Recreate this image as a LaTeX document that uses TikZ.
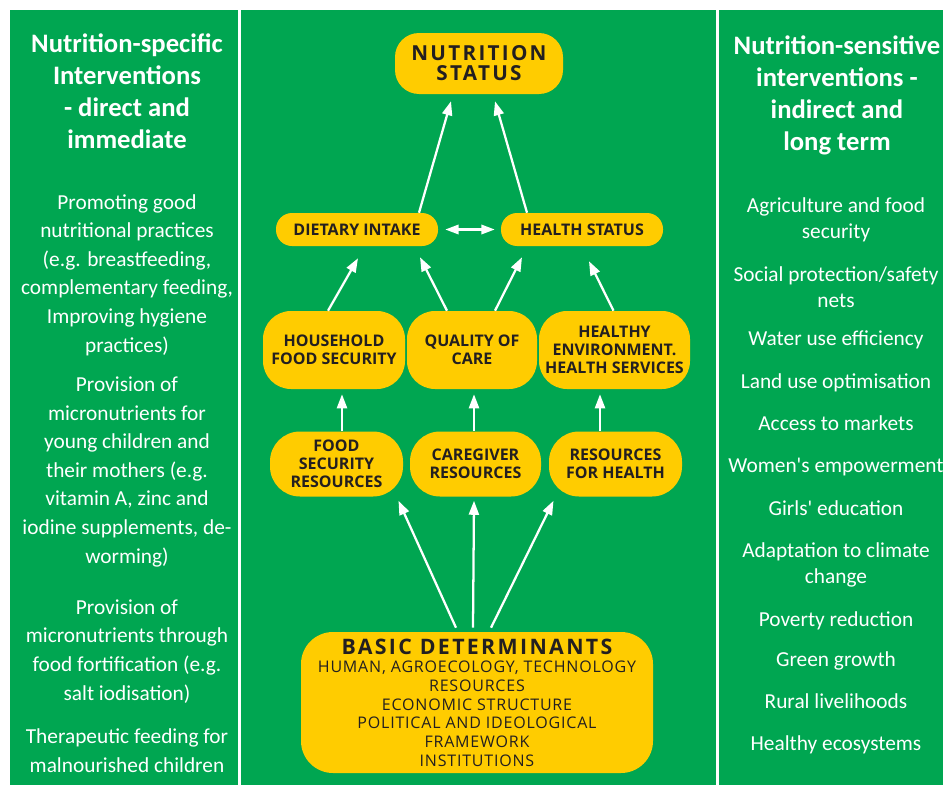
\documentclass[tikz,border=0pt]{standalone}
\usepackage{fontspec}
\setmainfont{Carlito}
\newfontfamily\boxfont{Open Sans}
\newfontfamily\boxwide{Open Sans}[LetterSpace=11]
\newfontfamily\boxloose{Open Sans}[LetterSpace=5]
\usepackage{tikz}
\usetikzlibrary{arrows.meta}
\definecolor{leafgreen}{RGB}{0, 166, 81}
\definecolor{sunyellow}{RGB}{255, 204, 0}
\definecolor{inkdark}{RGB}{35, 31, 32}
\newdimen\px \px=0.75pt

\tikzset{
  box/.style={fill=sunyellow, text=inkdark, align=center, inner sep=0pt,
              font=\boxfont\bfseries\fontsize{12}{13.5}\selectfont},
  pill/.style={box, minimum width=162\px, minimum height=33\px, rounded corners=16\px},
  cause/.style={box, minimum height=78\px, rounded corners=28\px},
  means/.style={box, minimum height=65\px, rounded corners=30\px},
  flow/.style={white, line width=1.7pt, -{Triangle[length=10.5pt,width=7.5pt]}},
  twoway/.style={white, line width=1.7pt, {Triangle[length=10pt,width=7pt]}-{Triangle[length=10pt,width=7pt]}},
  head/.style={text=white, align=center, anchor=base, inner sep=0pt,
               font=\bfseries\fontsize{20}{24}\selectfont},
  item/.style={text=white, align=center, anchor=base, inner sep=0pt,
               font=\fontsize{16}{21.4}\selectfont},
  itemr/.style={item, font=\fontsize{16}{19.5}\selectfont}
}

\begin{document}
\begin{tikzpicture}[x=0.75pt, y=-0.75pt]
  \useasboundingbox (0,0) rectangle (943,785);
  \fill[white]     (  0.0, 0) rectangle (943.0,785);
  \fill[leafgreen] ( 10.0,10) rectangle (237.5,785);
  \fill[leafgreen] (241.0,10) rectangle (715.7,785);
  \fill[leafgreen] (719.0,10) rectangle (943.0,785);

  % panel headings (placed by the baseline of their last line)
  \node[head] (spec) at (127,148) {Nutrition-specific\\Interventions\\- direct and\\immediate};
  \node[head] (sens) at (837,150) {Nutrition-sensitive\\interventions -\\indirect and\\long term};

  \foreach \y/\txt [count=\i] in {
      352/{Promoting good\\nutritional practices\\(e.g. breastfeeding,\\complementary feeding,\\Improving hygiene\\practices)},
      563/{Provision of\\micronutrients for\\young children and\\their mothers (e.g.\\vitamin A, zinc and\\iodine supplements, de-\\worming)},
      700/{Provision of\\micronutrients through\\food fortification (e.g.\\salt iodisation)},
      772/{Therapeutic feeding for\\malnourished children}}
    \node[item] (spec-\i) at (127,\y) {\txt};

  \foreach \y/\txt [count=\i] in {
      238/{Agriculture and food\\security},
      307/{Social protection/safety\\nets},
      345/{Water use efficiency},
      388/{Land use optimisation},
      430/{Access to markets},
      472/{Women\textquotesingle s empowerment},
      515/{Girls\textquotesingle\ education},
      583/{Adaptation to climate\\change},
      626/{Poverty reduction},
      666/{Green growth},
      708/{Rural livelihoods},
      750/{Healthy ecosystems}}
    \node[itemr] (sens-\i) at (836,\y) {\txt};

  % framework boxes
  \node[box, minimum width=168\px, minimum height=61\px, rounded corners=24\px,
        font=\boxwide\bfseries\fontsize{15.5}{15}\selectfont] (status) at (479,63.5) {NUTRITION\\STATUS};
  \node[pill] (intake) at (357,229.5) {DIETARY INTAKE};
  \node[pill] (health) at (582,229.5) {HEALTH STATUS};

  \node[cause, minimum width=142\px] (household) at (334.0,350) {HOUSEHOLD\\FOOD SECURITY};
  \node[cause, minimum width=130\px] (care)      at (472.0,350) {QUALITY OF\\CARE};
  \node[cause, minimum width=151\px] (environ)   at (614.5,350) {HEALTHY\\ENVIRONMENT.\\HEALTH SERVICES};

  \node[means, minimum width=133\px] (foodres)   at (336.5,464) {FOOD\\SECURITY\\RESOURCES};
  \node[means, minimum width=131\px] (giver)     at (475.5,464) {CAREGIVER\\RESOURCES};
  \node[means, minimum width=133\px] (healthres) at (615.5,464) {RESOURCES\\FOR HEALTH};

  \node[box, minimum width=352\px, minimum height=141\px, rounded corners=32\px,
        font=\boxloose\fontsize{12}{14}\selectfont] (basic) at (477,702.5)
        {{\boxwide\bfseries\fontsize{16}{14}\selectfont BASIC DETERMINANTS}\\
         HUMAN, AGROECOLOGY, TECHNOLOGY\\RESOURCES\\ECONOMIC STRUCTURE\\
         POLITICAL AND IDEOLOGICAL\\FRAMEWORK\\INSTITUTIONS};

  % arrows
  \draw[flow]   ([xshift=62\px]intake.north)   -- ([xshift=-28\px,yshift=-7\px]status.south);
  \draw[flow]   ([xshift=-55\px]health.north)  -- ([xshift=16\px,yshift=-7\px]status.south);
  \draw[twoway] ([xshift=7\px]intake.east)     -- ([xshift=-6\px]health.west);

  \draw[flow]   ([xshift=-6\px]household.north) -- ([xshift=1\px,yshift=-12\px]intake.south);
  \draw[flow]   ([xshift=-25\px]care.north)     -- ([xshift=63\px,yshift=-11\px]intake.south);
  \draw[flow]   ([xshift=23\px]care.north)      -- ([xshift=-60\px,yshift=-11\px]health.south);
  \draw[flow]   ([xshift=-1\px]environ.north)   -- ([xshift=7\px,yshift=-15\px]health.south);

  \draw[flow]   ([xshift=5.5\px]foodres.north)  -- ([xshift=8\px,yshift=-5\px]household.south);
  \draw[flow]   ([xshift=-1.5\px]giver.north)   -- ([xshift=2\px,yshift=-5\px]care.south);
  \draw[flow]   ([xshift=-15.5\px]healthres.north) -- ([xshift=-14.5\px,yshift=-5\px]environ.south);

  \draw[flow]   ([xshift=-21\px,yshift=4\px]basic.north) -- ([xshift=62\px,yshift=-4\px]foodres.south);
  \draw[flow]   ([xshift=-4\px,yshift=4\px]basic.north)  -- ([xshift=-1.5\px,yshift=-4\px]giver.south);
  \draw[flow]   ([xshift=14\px,yshift=4\px]basic.north)  -- ([xshift=-62\px,yshift=-4\px]healthres.south);
\end{tikzpicture}
\end{document}
